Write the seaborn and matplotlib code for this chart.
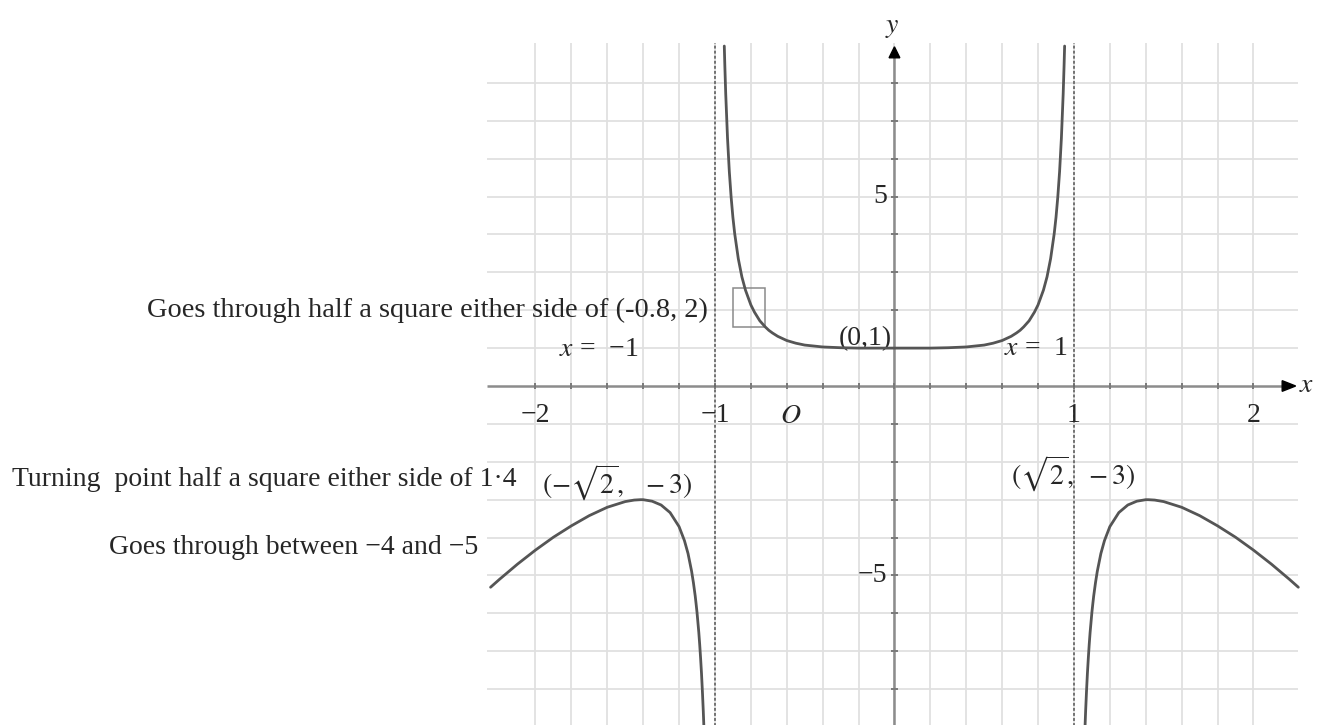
import numpy as np
import pandas as pd
import matplotlib
matplotlib.use("Agg")
import matplotlib.pyplot as plt
from matplotlib.patches import Rectangle, Polygon
import seaborn as sns

# Curve samples, one list pair per branch of the graph
mid_x = [-0.948, -0.945, -0.94, -0.93, -0.92, -0.91, -0.90, -0.89, -0.87, -0.85,
         -0.83, -0.80, -0.78, -0.75, -0.72, -0.70, -0.68, -0.65, -0.60, -0.55,
         -0.50, -0.40, -0.30, -0.20, -0.10, 0.0, 0.10, 0.20, 0.30, 0.40,
         0.50, 0.55, 0.60, 0.65, 0.68, 0.70, 0.72, 0.75, 0.78, 0.80,
         0.83, 0.85, 0.87, 0.89, 0.90, 0.91, 0.92, 0.93, 0.94, 0.945, 0.948]
mid_y = [8.97, 8.46, 7.71, 6.54, 5.66, 4.99, 4.45, 4.02, 3.36, 2.88,
         2.53, 2.14, 1.95, 1.72, 1.56, 1.47, 1.40, 1.31, 1.20, 1.13,
         1.08, 1.03, 1.01, 1.00, 1.00, 1.00, 1.00, 1.00, 1.01, 1.03,
         1.08, 1.13, 1.20, 1.31, 1.40, 1.47, 1.56, 1.72, 1.95, 2.14,
         2.53, 2.88, 3.36, 4.02, 4.45, 4.99, 5.66, 6.54, 7.71, 8.46, 8.97]

right_x = [1.062, 1.065, 1.07, 1.075, 1.08, 1.085, 1.09, 1.10, 1.105, 1.11,
           1.12, 1.13, 1.15, 1.17, 1.20, 1.25, 1.30, 1.35, 1.40, 1.414,
           1.45, 1.50, 1.60, 1.70, 1.80, 1.90, 2.00, 2.10, 2.20, 2.25]
right_y = [-8.95, -8.58, -8.05, -7.58, -7.18, -6.82, -6.50, -5.97, -5.75, -5.54,
           -5.19, -4.89, -4.42, -4.08, -3.71, -3.34, -3.14, -3.04, -3.00, -3.00,
           -3.01, -3.05, -3.20, -3.42, -3.69, -3.99, -4.33, -4.70, -5.10, -5.31]

left_x = [-2.25, -2.20, -2.10, -2.00, -1.90, -1.80, -1.70, -1.60, -1.50, -1.45,
          -1.414, -1.40, -1.35, -1.30, -1.25, -1.20, -1.17, -1.15, -1.13, -1.12,
          -1.11, -1.105, -1.10, -1.09, -1.085, -1.08, -1.075, -1.07, -1.065, -1.062]
left_y = [-5.31, -5.10, -4.70, -4.33, -3.99, -3.69, -3.42, -3.20, -3.05, -3.01,
          -3.00, -3.00, -3.04, -3.14, -3.34, -3.71, -4.08, -4.42, -4.89, -5.19,
          -5.54, -5.75, -5.97, -6.50, -6.82, -7.18, -7.58, -8.05, -8.58, -8.95]

# Axis labels
x_tick_values = [-2, -1, 1, 2]
x_tick_labels = ["\u22122", "\u22121", "1", "2"]
y_tick_values = [5, -5]
y_tick_labels = ["5", "\u22125"]

# Marked features
asymptotes = [-1, 1]
box_centre = (-0.8, 2.0)

curve = pd.concat([
    pd.DataFrame({"x": left_x, "y": left_y, "branch": "left"}),
    pd.DataFrame({"x": mid_x, "y": mid_y, "branch": "middle"}),
    pd.DataFrame({"x": right_x, "y": right_y, "branch": "right"}),
], ignore_index=True)

sns.set_theme(style="white")
plt.rcParams["font.family"] = ["Liberation Serif", "DejaVu Serif"]
plt.rcParams["mathtext.fontset"] = "stix"

fig = plt.figure(figsize=(13.17, 7.25), dpi=100)
ax = fig.add_axes([0, 0, 1, 1])

grid_col = "#e0e0e0"
axis_col = "#8c8c8c"
text_col = "#262626"
curve_col = "#555555"

# Square grid: 0.2 across, 1 up
gx = np.round(np.arange(-2.0, 2.01, 0.2), 1)
ax.vlines(gx, -9.5, 9.05, colors=grid_col, lw=1.3, zorder=0)
gy = [v for v in range(-9, 9) if v != 0]
ax.hlines(gy, -2.27, 2.25, colors=grid_col, lw=1.3, zorder=0)

# Axes with arrow heads
ax.hlines(0, -2.27, 2.17, colors=axis_col, lw=1.8, zorder=2)
ax.vlines(0, -9.5, 8.7, colors=axis_col, lw=1.8, zorder=2)
ax.add_patch(Polygon([[2.235, 0], [2.16, 0.14], [2.16, -0.14]], closed=True,
                     color="black", zorder=3))
ax.add_patch(Polygon([[0, 8.95], [-0.03, 8.66], [0.03, 8.66]], closed=True,
                     color="black", zorder=3))
ax.vlines(gx, -0.08, 0.08, colors="#7a7a7a", lw=1.4, zorder=2)
ax.hlines(gy, -0.018, 0.018, colors="#7a7a7a", lw=1.4, zorder=2)

# Vertical asymptotes
ax.vlines(asymptotes, -9.5, 9.05, colors="#6a6a6a", lw=1.3,
          linestyles=(0, (1.6, 1.2)), zorder=2)

# The graph
sns.lineplot(data=curve, x="x", y="y", units="branch", estimator=None, sort=False,
             color=curve_col, lw=2.0, ax=ax, zorder=4, legend=False)
ax.set_xlim(-4.983, 2.354)
ax.set_ylim(-8.945, 10.185)
ax.axis("off")

# Box around (-0.8, 2)
ax.add_patch(Rectangle((box_centre[0] - 0.1, box_centre[1] - 0.45), 0.18, 1.03,
                       fill=False, ec="#8a8a8a", lw=1.1, zorder=3))

fs = 20
# Tick labels
for v, s in zip(x_tick_values, x_tick_labels):
    ax.text(v, -0.77, s, ha="center", va="center", fontsize=fs, color=text_col)
for v, s in zip(y_tick_values, y_tick_labels):
    ax.text(-0.04, v, s, ha="right", va="center", fontsize=fs, color=text_col)
ax.text(-0.58, -0.8, "$O$", ha="center", va="center", fontsize=fs, color=text_col)
ax.text(2.252, 0.0, "$x$", ha="left", va="center", fontsize=fs, color=text_col)
ax.text(-0.01, 9.45, "$y$", ha="center", va="center", fontsize=fs, color=text_col)

# Annotations
ax.text(-1.04, 2.0, "Goes through half a square either side of (-0.8, 2)",
        ha="right", va="center", fontsize=20.4, color=text_col)
ax.text(-1.65, 0.95, "$x$ =  \u22121", ha="center", va="center", fontsize=fs, color=text_col)
ax.text(-0.165, 1.25, "(0,1)", ha="center", va="center", fontsize=fs, color=text_col)
ax.text(0.79, 1.0, "$x$ =  1", ha="center", va="center", fontsize=fs, color=text_col)
ax.text(-1.546, -2.55, r"$(-\sqrt{2},\ \ -3)$", ha="center", va="center",
        fontsize=fs, color=text_col)
ax.text(0.996, -2.32, r"$(\sqrt{2},\ -3)$", ha="center", va="center",
        fontsize=fs, color=text_col)
ax.text(-4.917, -2.48, "Turning  point half a square either side of 1\u00b74",
        ha="left", va="center", fontsize=fs, color=text_col)
ax.text(-2.32, -4.27, "Goes through between \u22124 and \u22125",
        ha="right", va="center", fontsize=fs, color=text_col)

fig.savefig("out.png", dpi=100)
